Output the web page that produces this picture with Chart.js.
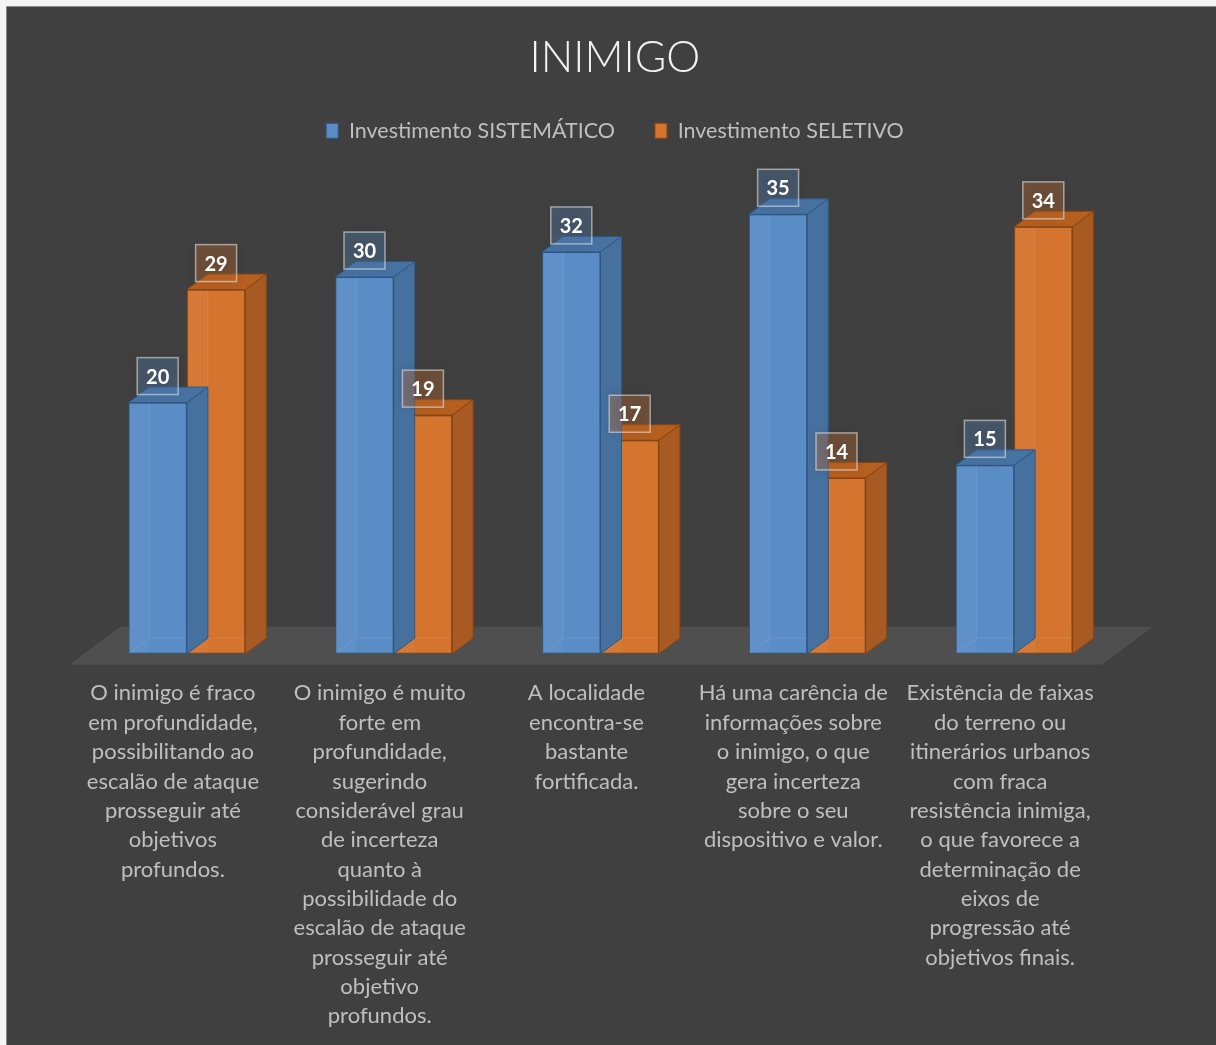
<!DOCTYPE html>
<html>
<head>
<meta charset="utf-8">
<script src="https://cdn.jsdelivr.net/npm/chart.js@4"></script>
<style>
  html, body { margin: 0; padding: 0; background: #f4f4f4; overflow: hidden; }
  #frame { position: absolute; left: 6px; top: 6px; width: 1230px; height: 1060px;
           border: 1px solid #8a8a8a; background: #404040; }
  #chart { position: absolute; left: 0; top: 0; }
</style>
</head>
<body>
<div id="frame"><canvas id="chart" width="1209" height="1038"></canvas></div>
<script>
const categories = [
  ["O inimigo é fraco", "em profundidade,", "possibilitando ao", "escalão de ataque", "prosseguir até", "objetivos", "profundos."],
  ["O inimigo é muito", "forte em", "profundidade,", "sugerindo", "considerável grau", "de incerteza", "quanto à", "possibilidade do", "escalão de ataque", "prosseguir até", "objetivo", "profundos."],
  ["A localidade", "encontra-se", "bastante", "fortificada."],
  ["Há uma carência de", "informações sobre", "o inimigo, o que", "gera incerteza", "sobre o seu", "dispositivo e valor."],
  ["Existência de faixas", "do terreno ou", "itinerários urbanos", "com fraca", "resistência inimiga,", "o que favorece a", "determinação de", "eixos de", "progressão até", "objetivos finais."]
];
const sistematico = [20, 30, 32, 35, 15];
const seletivo = [29, 19, 17, 14, 34];

// 3D look: front / top / side / edge colours per series
const faces = [
  { front: '#5a8dc6', top: '#4773a3', side: '#46709e', edge: '#2c5887', box: 'rgba(90,141,198,0.32)' },
  { front: '#d5742f', top: '#b6601f', side: '#a85a23', edge: '#8a4511', box: 'rgba(213,116,47,0.32)' }
];
const DX = 21, DY = 15.5;

function poly(ctx, pts, fill, stroke) {
  ctx.beginPath();
  ctx.moveTo(pts[0][0], pts[0][1]);
  for (let i = 1; i < pts.length; i++) ctx.lineTo(pts[i][0], pts[i][1]);
  ctx.closePath();
  ctx.fillStyle = fill;
  ctx.fill();
  ctx.lineWidth = 1;
  ctx.strokeStyle = stroke;
  ctx.stroke();
}

const bars3d = {
  id: 'bars3d',
  beforeDatasetsDraw(chart) {
    const ctx = chart.ctx;
    const { left, right } = chart.chartArea;
    const base = chart.scales.y.getPixelForValue(0);
    const fy = base + 11, by = base - 27;
    ctx.save();
    ctx.beginPath();
    ctx.moveTo(left - 14.5, fy);
    ctx.lineTo(right - 15.5, fy);
    ctx.lineTo(right + 35.5, by);
    ctx.lineTo(left + 36.5, by);
    ctx.closePath();
    ctx.fillStyle = '#4f4f4f';
    ctx.fill();
    ctx.restore();
  },
  afterDatasetDraw(chart, args) {
    const ctx = chart.ctx;
    const f = faces[args.index];
    ctx.save();
    args.meta.data.forEach(el => {
      const L = el.x - el.width / 2, R = el.x + el.width / 2, T = el.y, B = el.base;
      // see-through back edges and light strip on the front face
      ctx.fillStyle = 'rgba(255,255,255,0.035)';
      ctx.fillRect(L + 1, T + 1, DX - 1, B - T - 2);
      ctx.beginPath();
      ctx.moveTo(L + DX, T - DY + 1);
      ctx.lineTo(L + DX, B - DY);
      ctx.lineTo(R, B - DY);
      ctx.moveTo(L + 1, B - 1);
      ctx.lineTo(L + DX, B - DY);
      ctx.strokeStyle = 'rgba(255,255,255,0.09)';
      ctx.lineWidth = 1;
      ctx.stroke();
      poly(ctx, [[L, T], [R, T], [R + DX, T - DY], [L + DX, T - DY]], f.top, f.edge);
      poly(ctx, [[R, T], [R + DX, T - DY], [R + DX, B - DY], [R, B]], f.side, f.edge);
    });
    ctx.restore();
  },
  afterDatasetsDraw(chart) {
    const ctx = chart.ctx;
    ctx.save();
    chart.data.datasets.forEach((ds, di) => {
      const f = faces[di];
      chart.getDatasetMeta(di).data.forEach((el, i) => {
        const w = 41, h = 37;
        const x0 = el.x - w / 2, y0 = el.y - 8 - h;
        ctx.shadowColor = 'rgba(0,0,0,0.35)';
        ctx.shadowBlur = 10;
        ctx.fillStyle = f.box;
        ctx.fillRect(x0, y0, w, h);
        ctx.shadowBlur = 0;
        ctx.strokeStyle = 'rgba(225,225,225,0.6)';
        ctx.lineWidth = 1.5;
        ctx.strokeRect(x0, y0, w, h);
        ctx.fillStyle = '#ffffff';
        ctx.font = 'bold 20px Lato';
        ctx.textAlign = 'center';
        ctx.textBaseline = 'middle';
        ctx.fillText(String(ds.data[i]), el.x, y0 + h / 2 + 1);
      });
    });
    ctx.restore();
  }
};

new Chart(document.getElementById('chart'), {
  type: 'bar',
  data: {
    labels: categories,
    datasets: [
      {
        label: 'Investimento SISTEMÁTICO',
        data: sistematico,
        backgroundColor: faces[0].front,
        borderColor: faces[0].edge,
        borderWidth: 1,
        borderSkipped: false
      },
      {
        label: 'Investimento SELETIVO',
        data: seletivo,
        backgroundColor: faces[1].front,
        borderColor: faces[1].edge,
        borderWidth: 1,
        borderSkipped: false
      }
    ]
  },
  options: {
    responsive: false,
    animation: false,
    categoryPercentage: 0.565,
    barPercentage: 1.0,
    layout: { padding: { left: 76.5, right: 69.5, top: 0, bottom: -11 } },
    plugins: {
      title: {
        display: true,
        text: 'INIMIGO',
        color: '#f2f2f2',
        font: { family: 'Lato', size: 43, weight: '300', lineHeight: 1.0 },
        padding: { top: 30, bottom: 0 }
      },
      legend: {
        display: true,
        labels: {
          color: '#bfbfbf',
          font: { family: 'Lato', size: 21.5 },
          boxWidth: 12,
          boxHeight: 15,
          padding: 40
        }
      },
      tooltip: { enabled: false }
    },
    scales: {
      x: {
        grid: { display: false, drawTicks: false },
        border: { display: false },
        ticks: {
          color: '#bfbfbf',
          font: { family: 'Lato', size: 22, lineHeight: 1.3345 },
          padding: 25,
          maxRotation: 0,
          autoSkip: false,
          labelOffset: -14
        }
      },
      y: {
        position: 'right',
        min: 0,
        max: 40,
        grid: { display: false, drawTicks: false },
        border: { display: false },
        ticks: { display: false },
        afterFit(scale) { scale.width = 29; }
      }
    }
  },
  plugins: [bars3d]
});
</script>
</body>
</html>
